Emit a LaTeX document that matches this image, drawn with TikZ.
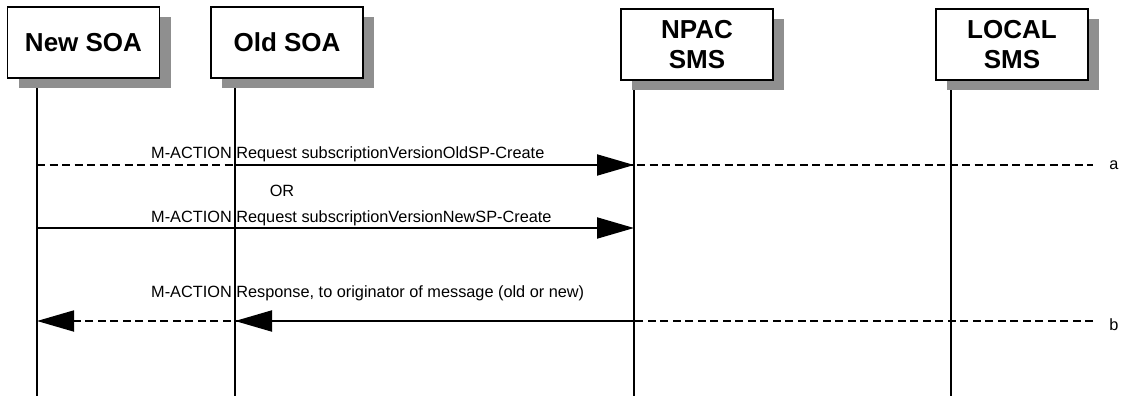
\documentclass[tikz,border=0pt]{standalone}
\usepackage{fontspec}
\setmainfont{Liberation Sans}
\usetikzlibrary{arrows.meta,shadows}

\begin{document}
\begin{tikzpicture}[x=1pt, y=-1pt,
    entity/.style={draw, line width=1.4pt, fill=white, minimum width=152pt, minimum height=71pt,
        align=center, font=\fontsize{26}{30}\selectfont\bfseries,
        drop shadow={shadow xshift=11pt, shadow yshift=-10pt, fill=black!44, opacity=1}},
    lifeline/.style={line width=1.4pt},
    msg/.style={line width=2pt, -{Triangle[length=37pt, width=21pt]}},
    dashmsg/.style={line width=1.8pt, dash pattern=on 8pt off 4.5pt},
    msgtext/.style={anchor=base west, inner sep=0pt, font=\fontsize{16.3}{19}\selectfont}]
    \useasboundingbox (0,0) rectangle (1146,396);

    % Lifelines
    \foreach \n/\x/\t in {new/37/78, old/235/78, npac/634/80, local/951/80} {
        \coordinate (\n-top) at (\x,\t);
        \coordinate (\n-bot) at (\x,396);
        \coordinate (\n-a) at (\x,165);
        \coordinate (\n-c) at (\x,228);
        \coordinate (\n-b) at (\x,321);
        \draw[lifeline] (\n-top) -- (\n-bot);
    }
    \coordinate (end-a) at (1093,165);
    \coordinate (end-b) at (1093,321);

    % Entities
    \node[entity] (newsoa) at (83.5,42.5) {New SOA};
    \node[entity] (oldsoa) at (287,42.5) {Old SOA};
    \node[entity] (npac) at (697,44.5) {NPAC\\SMS};
    \node[entity] (local) at (1012,44.5) {LOCAL\\SMS};

    % Request (a)
    \node[msgtext] (reqold) at (151,158) {M-ACTION Request subscriptionVersionOldSP-Create};
    \draw[dashmsg] (new-a) -- (end-a);
    \draw[msg] (old-a) -- (npac-a);
    \node[msgtext, anchor=base] (ora) at (282,196) {OR};
    \node[msgtext, anchor=base] (taga) at (1114,169.5) {a};

    % Request from new SOA
    \node[msgtext] (reqnew) at (151,222) {M-ACTION Request subscriptionVersionNewSP-Create};
    \draw[msg] (new-c) -- (npac-c);

    % Response (b)
    \node[msgtext] (resp) at (151,297) {M-ACTION Response, to originator of message (old or new)};
    \draw[dashmsg, -{Triangle[length=37pt, width=21pt]}] (end-b) -- (new-b);
    \draw[msg] (npac-b) -- (old-b);
    \node[msgtext, anchor=base] (tagb) at (1114,330) {b};
\end{tikzpicture}
\end{document}
